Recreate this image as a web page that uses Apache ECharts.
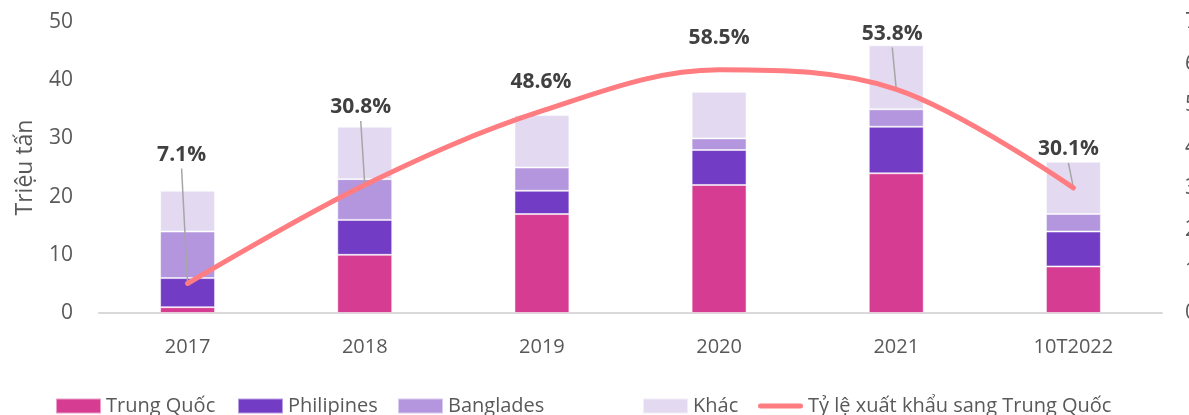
<!DOCTYPE html>
<html>
<head>
<meta charset="utf-8">
<title>Xuất khẩu</title>
<script src="https://cdn.jsdelivr.net/npm/echarts@6/dist/echarts.min.js"></script>
<style>
    html, body { margin: 0; padding: 0; background: #fff; }
    #chart { width: 1189px; height: 415px; }
</style>
</head>
<body>
<div id="chart"></div>
<script>
// categories
var years = ['2017', '2018', '2019', '2020', '2021', '10T2022'];
// Triệu tấn
var trungQuoc = [1, 10, 17, 22, 24, 8];
var philipines = [5, 6, 4, 6, 8, 6];
var banglades = [8, 7, 4, 2, 3, 3];
var khac = [7, 9, 9, 8, 11, 9];
// % sang Trung Quốc
var tyLe = [7.1, 30.8, 48.6, 58.5, 53.8, 30.1];
var leftTicks = { min: 0, max: 50, interval: 10 };
var rightTicks = { min: 0, max: 70, interval: 10 };

// label offsets (dx, dy) for the percentage labels, and whether a leader line is drawn
var labelShift = [[-6, -113], [-4, -62], [-1, -13], [0, -16], [-4, -40], [-5, -23]];
var hasLeader = [true, true, false, false, true, true];
// legend slots, left edge of each item
var legendLeft = [55, 237, 397, 642, 758];

var FONT = '"Open Sans", "Noto Sans", sans-serif';
var LINE_ICON = 'path://M2.5,0 L42.5,0 A2.5,2.5 0 0 1 42.5,5 L2.5,5 A2.5,2.5 0 0 1 2.5,0 Z';

function barSeries(name, data, color) {
    return {
        name: name,
        type: 'bar',
        stack: 'total',
        barWidth: '31%',
        data: data,
        itemStyle: {
            color: color,
            borderColor: 'rgba(255,255,255,0.5)',
            borderWidth: 1
        }
    };
}

function buildLegends(names) {
    return names.map(function (name, i) {
        var isLine = i == names.length - 1;
        return {
            left: legendLeft[i],
            top: 396,
            padding: 0,
            itemWidth: 45,
            itemHeight: 15,
            selectedMode: false,
            textStyle: { fontSize: 20, color: '#595959', fontFamily: FONT },
            data: [{ name: name, icon: isLine ? LINE_ICON : 'rect' }]
        };
    });
}

// leader lines from the data point up to the bottom of its label
function renderLeader(params, api) {
    var i = params.dataIndex;
    if (!hasLeader[i]) {
        return;
    }
    var p = api.coord([api.value(0), api.value(1)]);
    var s = labelShift[i];
    return {
        type: 'line',
        shape: { x1: p[0] + s[0], y1: p[1] + s[1] - 2, x2: p[0], y2: p[1] },
        style: { stroke: '#A6A6A6', lineWidth: 1.5 }
    };
}

function buildOption() {
    var names = ['Trung Quốc', 'Philipines', 'Banglades', 'Khác', 'Tỷ lệ xuất khẩu sang Trung Quốc'];
    var leaderData = tyLe.map(function (v, i) {
        return [i, v];
    });
    return {
        animation: false,
        textStyle: { fontFamily: FONT },
        grid: { left: 99, right: 27, top: 22, bottom: 102, outerBoundsMode: 'none', containLabel: false },
        legend: buildLegends(names),
        xAxis: {
            type: 'category',
            data: years,
            axisLine: { lineStyle: { color: '#D9D9D9', width: 2 } },
            axisTick: { show: false },
            axisLabel: { color: '#595959', fontSize: 20, margin: 24 }
        },
        yAxis: [
            {
                type: 'value',
                min: leftTicks.min,
                max: leftTicks.max,
                interval: leftTicks.interval,
                name: 'Triệu tấn',
                nameLocation: 'middle',
                nameGap: 62,
                nameTextStyle: { color: '#595959', fontSize: 23 },
                splitLine: { show: false },
                axisLabel: { color: '#595959', fontSize: 21, margin: 26 }
            },
            {
                type: 'value',
                min: rightTicks.min,
                max: rightTicks.max,
                interval: rightTicks.interval,
                position: 'right',
                splitLine: { show: false },
                axisLabel: { color: '#595959', fontSize: 21, margin: 23, formatter: '{value}%' }
            }
        ],
        series: [
            barSeries(names[0], trungQuoc, '#D63C92'),
            barSeries(names[1], philipines, '#733CC4'),
            barSeries(names[2], banglades, '#B396DE'),
            barSeries(names[3], khac, '#E3DAF2'),
            {
                name: 'leader',
                type: 'custom',
                yAxisIndex: 1,
                data: leaderData,
                renderItem: renderLeader,
                silent: true,
                z: 4
            },
            {
                name: names[4],
                type: 'line',
                yAxisIndex: 1,
                smooth: 0.35,
                smoothConstraint: false,
                symbol: 'circle',
                symbolSize: 0,
                data: tyLe,
                lineStyle: { color: '#FF7C80', width: 5, cap: 'round' },
                itemStyle: { color: '#FF7C80' },
                label: {
                    show: true,
                    position: 'top',
                    fontSize: 21,
                    fontWeight: 'bold',
                    color: '#404040',
                    formatter: function (p) {
                        return p.value.toFixed(1) + '%';
                    }
                },
                labelLayout: function (p) {
                    var s = labelShift[p.dataIndex];
                    return { dx: s[0], dy: s[1] };
                },
                z: 5
            }
        ]
    };
}

var chart = echarts.init(document.getElementById('chart'));
chart.setOption(buildOption());
</script>
</body>
</html>
